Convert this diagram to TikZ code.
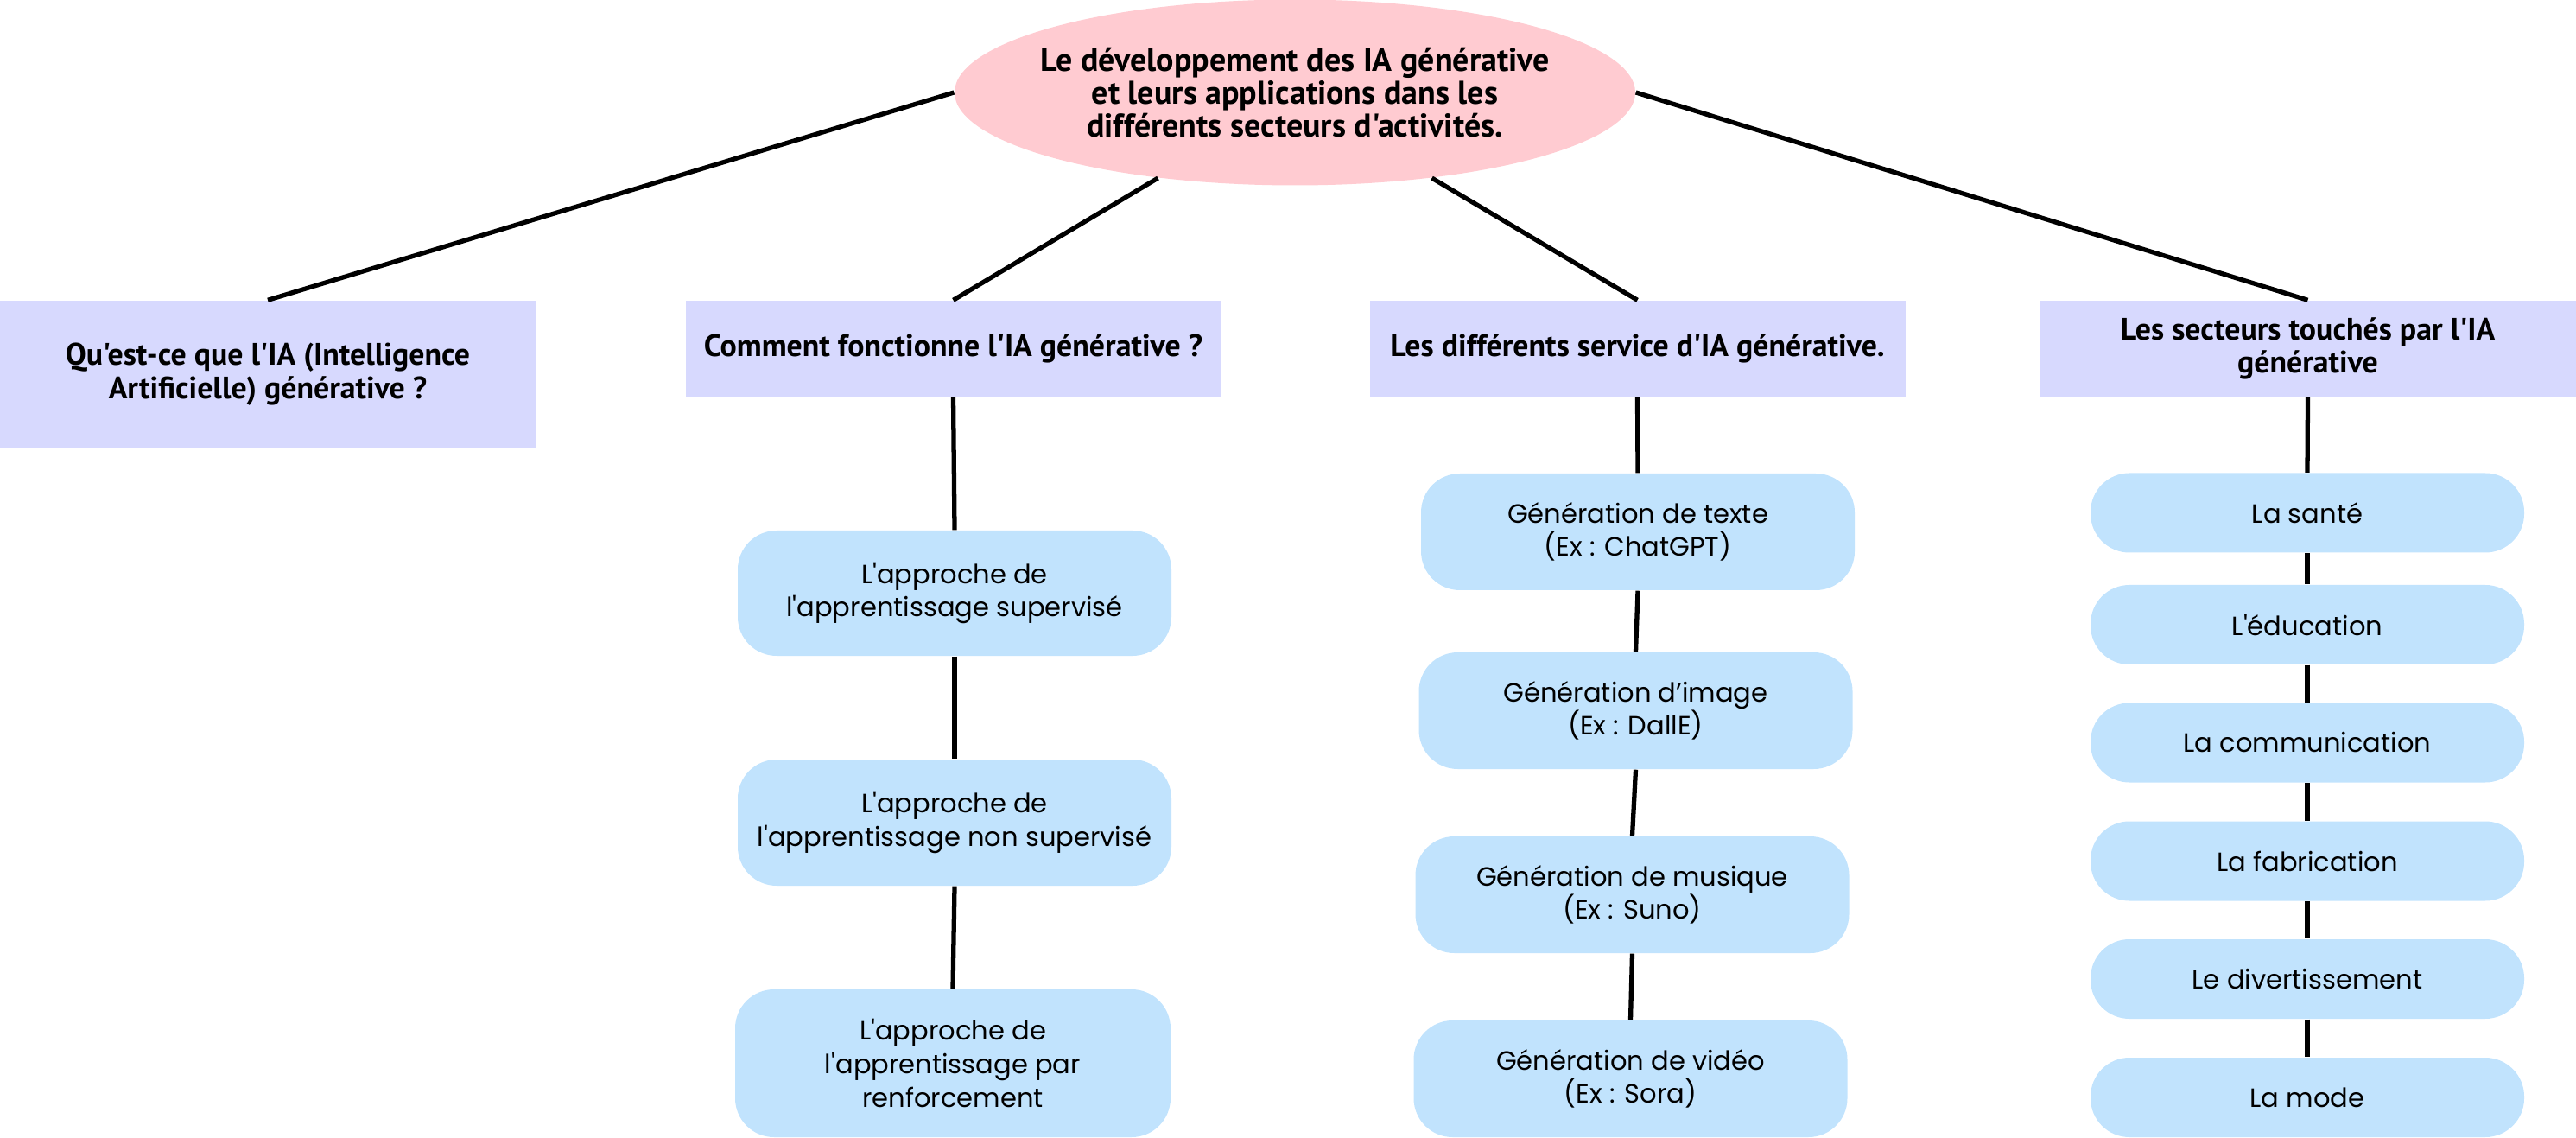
\documentclass[tikz,border=0pt]{standalone}
\usepackage{fontspec}
\usepackage{tikz}
\usepackage{xcolor}
\usetikzlibrary{shapes.geometric}
\newfontfamily\titrefont{PT Sans}
\newfontfamily\bullefont{Poppins}
\definecolor{rose}{RGB}{255,203,209}
\definecolor{lavande}{RGB}{215,217,254}
\definecolor{bleuclair}{RGB}{193,227,253}

\begin{document}
\begin{tikzpicture}[
        titre/.style={ellipse, fill=rose, inner ysep=0pt, inner xsep=-0.3cm, minimum width=7.88cm, minimum height=2.15cm, align=center, font=\titrefont\bfseries\fontsize{10.8}{10.9}\selectfont},
        theme/.style={rectangle, fill=lavande, inner sep=0pt, minimum width=6.2cm, align=center, font=\titrefont\bfseries\fontsize{10.2}{10.9}\selectfont},
        bulle/.style={rectangle, rounded corners=4.5mm, fill=bleuclair, inner sep=0pt, minimum width=5.02cm, align=center, font=\bullefont\fontsize{8.7}{11}\selectfont},
        lien/.style={line width=1.5pt}
    ]
            \useasboundingbox (0, 0) rectangle (29.82, -13.17);

            % sujet central
            \node[titre] (titre) at (14.99, -1.07) {Le développement des IA générative\\et leurs applications dans les\\différents secteurs d'activités.};

            % les quatre thèmes
            \node[theme, minimum height=1.70cm] (quoi) at (3.10, -4.33) {Qu'est-ce que l'IA (Intelligence\\Artificielle) générative ?};
            \node[theme, minimum height=1.11cm] (comment) at (11.035, -4.035) {Comment fonctionne l'IA générative ?};
            \node[theme, minimum height=1.11cm] (services) at (18.955, -4.035) {Les différents service d'IA générative.};
            \node[theme, minimum height=1.11cm] (secteurs) at (26.715, -4.035) {Les secteurs touchés par l'IA\\générative};

            % approches
            \node[bulle, minimum height=1.45cm] (supervise) at (11.05, -6.865) {L'approche de\\l'apprentissage supervisé};
            \node[bulle, minimum height=1.46cm] (nonsupervise) at (11.05, -9.52) {L'approche de\\l'apprentissage non supervisé};
            \node[bulle, minimum height=1.71cm, minimum width=5.04cm] (renforcement) at (11.03, -12.305) {L'approche de\\l'apprentissage par\\renforcement};

            % services
            \node[bulle, minimum height=1.35cm] (texte) at (18.96, -6.155) {Génération de texte\\(Ex : ChatGPT)};
            \node[bulle, minimum height=1.35cm] (image) at (18.935, -8.225) {Génération d’image\\(Ex : DallE)};
            \node[bulle, minimum height=1.35cm] (musique) at (18.895, -10.355) {Génération de musique\\(Ex : Suno)};
            \node[bulle, minimum height=1.35cm] (video) at (18.875, -12.485) {Génération de vidéo\\(Ex : Sora)};

            % secteurs
            \node[bulle, minimum height=0.92cm] (sante) at (26.71, -5.935) {La santé};
            \node[bulle, minimum height=0.92cm] (education) at (26.71, -7.23) {L'éducation};
            \node[bulle, minimum height=0.92cm] (communication) at (26.71, -8.595) {La communication};
            \node[bulle, minimum height=0.92cm] (fabrication) at (26.71, -9.965) {La fabrication};
            \node[bulle, minimum height=0.92cm] (divertissement) at (26.71, -11.33) {Le divertissement};
            \node[bulle, minimum height=0.92cm] (mode) at (26.71, -12.70) {La mode};

            % liens
            \draw[lien] (titre.west) -- (quoi.north);
            \draw[lien] (titre.212) -- (comment.north);
            \draw[lien] (titre.328) -- (services.north);
            \draw[lien] (titre.east) -- (secteurs.north);

            \draw[lien] (comment.south) -- (supervise.north);
            \draw[lien] (supervise.south) -- (nonsupervise.north);
            \draw[lien] (nonsupervise.south) -- (renforcement.north);

            \draw[lien] (services.south) -- (texte.north);
            \draw[lien] (texte.south) -- (image.north);
            \draw[lien] (image.south) -- (musique.north);
            \draw[lien] (musique.south) -- (video.north);

            \draw[lien] (secteurs.south) -- (sante.north);
            \draw[lien] (sante.south) -- (education.north);
            \draw[lien] (education.south) -- (communication.north);
            \draw[lien] (communication.south) -- (fabrication.north);
            \draw[lien] (fabrication.south) -- (divertissement.north);
            \draw[lien] (divertissement.south) -- (mode.north);
        \end{tikzpicture}
\end{document}
